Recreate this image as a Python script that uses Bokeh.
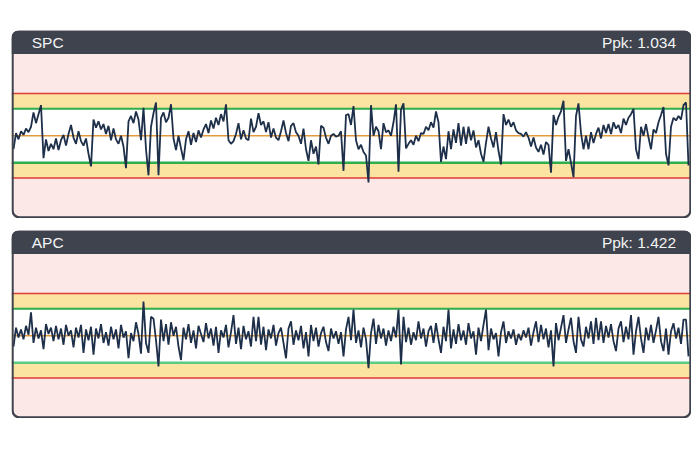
from bokeh.plotting import figure
from bokeh.models import BoxAnnotation, Span, Label, Range1d, Spacer
from bokeh.layouts import column, row
from bokeh.embed import file_html
from bokeh.resources import INLINE

# ---- data (deviation from target, in sigma-like units) ----
spc_values = [
    -1.5, 0.3, -0.4, 0.5, 0.1, 0.8, 0.4, 1.0, 2.6, 1.4, 2.4, 3.4,
    -2.5, -0.4, -1.7, -0.9, -1.5, -0.3, -1.6, -0.5, 0.1, -1.1, 0.2, 1.2, -0.2, -0.9, 0.5, -0.6, -1.1, -0.3, -2.0, -3.4,
    1.8, 0.9, 1.6, 0.7, 1.3, 0.2, 1.1, -0.5, 0.8, -0.4, -0.9, 0.0, -1.2, -3.6,
    1.6, 2.2, 1.4, 2.7, 1.8, -0.5, 3.1, -1.5, -4.4, 1.0, 2.5, 3.7, -4.4, 2.0, 2.6, 1.5, 2.0, 3.5, -0.3, -1.6, 0.0, -1.4, -2.7,
    -0.4, 0.5, -1.0, 0.3, -0.7, 0.6, -0.2, 0.7, 1.3, 0.3, 1.7, 0.8, 2.0, 1.2, 2.4, 1.6, 3.5,
    -0.5, -0.9, -0.6, 0.2, 1.4, -0.4, 0.6, -0.3, -0.5, 1.9, 0.4, 1.0, 2.5, 1.2, 1.6, 0.4, 1.5, -0.2, 0.8, -0.2,
    -0.5, 0.5, 1.7, 0.3, -0.6, 1.1, 1.4, 0.4, 0.0, -0.9, 0.8, -1.5, -2.8, -0.5, -2.0, -1.2, -3.2, 1.1, 0.9, -0.2,
    -0.9, 0.0, 0.2, -0.1, 0.0, 0.5, -3.9, 2.3, 2.4, 1.2, 3.3,
    -0.5, -1.5, -1.0, -1.8, -2.2, -5.2, 3.4, 0.0, 1.0, 0.5, -1.5, 1.4, 0.4, 0.6, 0.0, 1.5, 3.5, -4.0, 2.9, 3.6,
    -1.4, -0.9, -0.5, -1.0, 0.0, -0.6, 0.3, 0.2, 1.0, 0.6, 1.5, 0.9, 2.7, 1.5, -2.9, -1.2, -2.6, 0.5, -1.5, 0.7,
    -0.8, 1.4, -1.1, 1.0, -0.9, 1.0, -0.5, 0.6, -1.3, -0.5, -2.0, -2.9, -0.8, 1.0, -0.3, -1.3, 0.4, -1.7, -3.2, 2.4,
    1.2, 1.8, 1.0, 1.5, 0.6, 0.3, 0.2, -0.1,
    0.4, -0.2, -1.2, -0.2, -1.3, -1.8, -1.0, -2.1, -0.7, -1.0, -4.1, 2.3, 1.2, 2.1, 2.7, 3.9, -2.8, -1.5, -3.0, -4.6,
    2.2, 3.6, 0.3, -1.5, 0.0, -1.5, 0.4, -0.8, 0.2, 0.9, -0.3, 1.2, 0.3, 1.3, 0.2, 1.5, 0.8, 1.2, 0.3, 1.9,
    1.2, 2.0, 2.4, 3.0, -1.5, -2.6, 1.0, 0.0, 1.3, -0.2, -1.5, 0.7, 0.3, 1.5, 2.3, 3.2, -2.0, -3.3, 1.0, 2.0,
    1.7, 2.2, 1.8, 3.4, 3.7, -3.3,
]

apc_values = [
    -1.2, 0.9, -0.2, 0.7, -0.4, 1.1, 0.1, 2.6, -0.8, 0.9,
    -0.3, 0.6, -1.5, 1.3, 0.2, 0.9, -0.6, 1.1, -0.4, 0.8,
    -1.0, 1.2, 0.0, 0.6, -1.3, 0.9, -0.2, 1.2, -1.9, 0.7,
    -0.5, 1.0, -2.1, 0.8, -0.3, 1.3, -0.8, 0.4, -1.1, 1.0,
    -0.4, 0.7, -1.4, 1.2, -0.2, 0.5, -2.5, 0.3, -0.6, 1.5,
    0.2, -2.0, 3.8, -0.8, -1.9, 2.1, 1.9, -0.5, -3.4, 1.8,
    -0.6, 1.3, -1.0, 1.5, 0.0, 1.0, -1.2, -2.7, 0.9, -0.4,
    1.3, -0.8, 0.6, -1.4, 1.1, 0.2, -0.7, 1.4, -0.3, 0.8,
    -1.1, 1.0, -1.9, 0.6, -0.2, 1.2, -1.3, 0.4, 2.3, -0.9,
    0.9, -1.5, 1.1, -0.4, 0.5, -1.2, 2.1, -0.6, 2.1, -1.0,
    1.0, -1.6, 0.7, -0.3, 1.2, -1.1, 0.3, 0.9, -0.8, -2.5,
    0.8, 1.6, -1.0, 0.6, -0.5, 1.1, -1.4, 0.4, -2.3, 1.2,
    -0.6, 0.9, -1.2, 0.3, 1.0, -0.7, -1.7, 0.8, -0.3, 0.5,
    -0.9, 0.4, -2.3, 0.7, 2.1, -0.5, 2.9, -0.8, 0.6, -1.3,
    0.9, -0.4, -3.6, 0.3, 1.9, -0.9, 1.2, -0.3, 0.8, -1.1,
    0.6, -0.6, 1.0, -0.2, 2.9, -3.2, 2.1, -0.7, 0.9, -1.0,
    0.4, -0.5, 1.6, -0.3, 0.8, -1.2, 0.5, 1.1, -0.8, 1.4,
    -0.4, -1.9, 1.0, -0.6, 2.9, -1.4, 0.7, -0.9, 1.3, -0.5,
    0.6, -1.0, 1.4, -0.3, 0.5, -2.1, 0.9, -0.6, 1.2, 2.9,
    -1.6, 0.8, -0.4, 0.3, -2.3, 0.4, 1.6, -0.8, 0.5, -0.3,
    0.7, -1.0, 0.2, -0.5, 0.6, -0.2, 0.9, -1.1, 0.4, 1.6,
    -0.7, 1.2, -0.4, 0.8, -1.3, 0.6, -3.4, 1.4, -0.5, 0.9,
    2.3, -0.8, 0.7, 2.0, -0.6, -1.9, 2.1, -0.4, -1.2, 1.0,
    -0.3, 1.6, -0.9, 2.0, -0.5, 1.6, -0.8, 1.1, -0.2, 1.3,
    -0.6, -1.7, 0.8, 1.6, -0.7, 1.0, -0.4, 2.3, -2.1, 0.5,
    2.1, -0.3, -1.9, 0.9, -0.5, 1.2, -0.8, 0.6, 2.1, -0.6,
    -1.7, 0.8, -2.1, 0.5, 1.4, -0.3, 0.9, -0.9, 1.8, 1.8,
    -2.3,
]

titles = ["SPC", "APC"]
ppk_labels = ["Ppk: 1.034", "Ppk: 1.422"]
center_line = 0.0
control_limits = [-3.0, 3.0]
spec_limits = [-4.7, 4.7]
chart_bottom = -9.2
header_bottom = 9.1
chart_top = 11.7

DARK = "#3e434e"
PINK = "#fde8e8"
YELLOW = "#fbe3a2"
RED = "#de3b34"
GREEN = "#2eae4c"
ORANGE = "#e49a3a"
NAVY = "#1d2f49"

W, H = 680, 188


def panel(values, title, ppk, lower_green_color):
    n = len(values)
    xs = list(range(n))
    x0, x1 = -0.8, n - 1 + 1.2
    px_x = (x1 - x0) / W
    px_y = (chart_top - chart_bottom) / H
    p = figure(width=W, height=H,
               x_range=Range1d(x0, x1),
               y_range=Range1d(chart_bottom, chart_top),
               output_backend="svg", toolbar_location=None,
               x_axis_location=None, y_axis_location=None,
               min_border=0, background_fill_color="white",
               border_fill_color="white", outline_line_color=None)
    p.xgrid.visible = False
    p.ygrid.visible = False

    p.add_layout(BoxAnnotation(fill_color=PINK, fill_alpha=1, line_color=None,
                               border_radius=7, level="underlay"))
    p.add_layout(BoxAnnotation(bottom=spec_limits[0], top=spec_limits[1],
                               fill_color=YELLOW, fill_alpha=1, line_color=None,
                               level="underlay"))
    p.add_layout(BoxAnnotation(bottom=control_limits[0], top=control_limits[1],
                               fill_color="white", fill_alpha=1, line_color=None,
                               level="underlay"))
    for s in spec_limits:
        p.add_layout(Span(location=s, dimension="width", line_color=RED,
                          line_width=1.6, level="underlay"))
    p.add_layout(Span(location=control_limits[1], dimension="width",
                      line_color=GREEN, line_width=2, level="underlay"))
    p.add_layout(Span(location=control_limits[0], dimension="width",
                      line_color=lower_green_color, line_width=2.4, level="underlay"))
    p.add_layout(Span(location=center_line, dimension="width",
                      line_color=ORANGE, line_width=1.5, level="underlay"))

    p.line(xs, values, line_color=NAVY, line_width=1.8)

    p.add_layout(BoxAnnotation(bottom=header_bottom, fill_color=DARK, fill_alpha=1,
                               line_color=None, border_radius=(7, 7, 0, 0)))
    p.add_layout(BoxAnnotation(left=x0 + 1.1 * px_x, right=x1 - 1.1 * px_x,
                               bottom=chart_bottom + 1.1 * px_y, top=chart_top - 1.1 * px_y,
                               fill_color=None, fill_alpha=0, line_color=DARK,
                               line_alpha=1, line_width=2.2, border_radius=7))
    p.add_layout(Label(x=7.3, y=(header_bottom + chart_top) / 2, text=title,
                       text_color="#f4f4f4", text_font="Liberation Sans",
                       text_font_size="15.5px", text_baseline="middle"))
    p.add_layout(Label(x=n - 1 - 5, y=(header_bottom + chart_top) / 2, text=ppk,
                       text_color="#f4f4f4", text_font="Liberation Sans",
                       text_font_size="15.5px", text_baseline="middle",
                       text_align="right"))
    return p


p1 = panel(spc_values, titles[0], ppk_labels[0], GREEN)
p2 = panel(apc_values, titles[1], ppk_labels[1], "#5ccc84")

layout = column(Spacer(height=30),
                row(Spacer(width=11), p1),
                Spacer(height=12),
                row(Spacer(width=11), p2))

open("out.html", "w").write(file_html(layout, INLINE))
